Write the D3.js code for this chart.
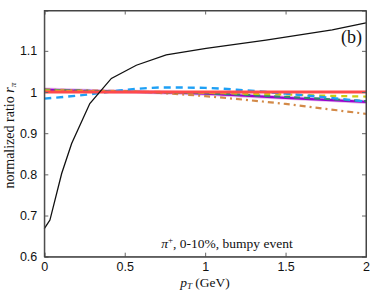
<!DOCTYPE html>
<html><head><meta charset="utf-8">
<script src="https://cdn.jsdelivr.net/npm/d3@7"></script>
<style>body{margin:0;background:#fff}svg{display:block}</style>
</head><body>
<svg id="c" width="374" height="291"></svg>
<script>
const xTicks = [0, 0.5, 1, 1.5, 2];
const yTicks = [0.6, 0.7, 0.8, 0.9, 1.0, 1.1];
const yTickLabels = ["0.6", "0.7", "0.8", "0.9", "1", "1.1"];
const xTickLabels = ["0", "0.5", "1", "1.5", "2"];

const pTBlack = [0, 0.035, 0.108, 0.17, 0.283, 0.417, 0.572, 0.758, 1.006, 1.378, 1.79, 2.0];
const ratioBlack = [0.668, 0.689, 0.802, 0.875, 0.972, 1.033, 1.065, 1.09, 1.106, 1.126, 1.151, 1.168];

const pT = [0, 0.25, 0.5, 0.75, 1.0, 1.25, 1.5, 1.75, 2.0];
const ratioOrange = [1.006, 1.004, 1.002, 0.997, 0.990, 0.981, 0.971, 0.959, 0.947];
const ratioYellow = [1.004, 1.002, 1.001, 1.000, 0.998, 0.996, 0.994, 0.991, 0.989];
const ratioGreen  = [1.005, 1.003, 1.001, 0.999, 0.997, 0.993, 0.988, 0.983, 0.978];
const ratioPurple = [1.006, 1.003, 1.001, 0.999, 0.996, 0.991, 0.986, 0.981, 0.976];
const ratioBlue   = [0.984, 0.993, 1.005, 1.011, 1.010, 1.004, 0.996, 0.987, 0.977];
const ratioRed    = [1.0, 1.0, 1.0, 1.0, 1.0, 1.0, 1.0, 1.0, 1.0];

const svg = d3.select("#c");
const L = 44.3, R = 366, T = 10.5, B = 256.7;
const x = d3.scaleLinear().domain([0, 2]).range([L, R]);
const y = d3.scaleLinear().domain([0.6, 1.198]).range([B, T]);

const g = svg.append("g");
const z = (xs, ys) => xs.map((v, i) => [v, ys[i]]);
const smooth = d3.line().x(d => x(d[0])).y(d => y(d[1])).curve(d3.curveMonotoneX);
const poly = d3.line().x(d => x(d[0])).y(d => y(d[1]));

const series = [
  {d: z(pT, ratioPurple), c: "#e6b8f0", w: 4, dash: null, gen: smooth},
  {d: z(pT, ratioPurple), c: "#9a00d0", w: 2.2, dash: null, gen: smooth},
  {d: z(pT, ratioOrange), c: "#d38a48", w: 2.2, dash: "6,4,2,4", gen: smooth},
  {d: z(pT, ratioGreen),  c: "#2e8b6e", w: 2.2, dash: "6,4", gen: smooth},
  {d: z(pT, ratioYellow), c: "#cccc10", w: 2.2, dash: "6,5", gen: smooth},
  {d: z(pT, ratioBlue),   c: "#1ea0f5", w: 2.4, dash: "7,5", gen: smooth},
  {d: z(pT, ratioRed),    c: "#ff4a4a", w: 2.8, dash: null, gen: smooth},
  {d: z(pTBlack, ratioBlack), c: "#111", w: 1.3, dash: null, gen: poly}
];
g.selectAll("path.s").data(series).join("path")
  .attr("class", "s")
  .attr("d", s => s.gen(s.d))
  .attr("fill", "none")
  .attr("stroke", s => s.c)
  .attr("stroke-width", s => s.w)
  .attr("stroke-dasharray", s => s.dash);

// axes
const tickFont = "Liberation Sans, Arial, sans-serif";
const xAxis = d3.axisBottom(x).tickValues(xTicks).tickSize(-4).tickPadding(7)
  .tickFormat((d, i) => xTickLabels[i]);
const yAxis = d3.axisLeft(y).tickValues(yTicks).tickSize(-4).tickPadding(6)
  .tickFormat((d, i) => yTickLabels[i]);
const gx = svg.append("g").attr("transform", `translate(0,${B})`).call(xAxis);
const gy = svg.append("g").attr("transform", `translate(${L},0)`).call(yAxis);
const gx2 = svg.append("g").attr("transform", `translate(0,${T})`).call(d3.axisTop(x).tickValues(xTicks).tickSize(-4).tickFormat(""));
const gy2 = svg.append("g").attr("transform", `translate(${R},0)`).call(d3.axisRight(y).tickValues(yTicks).tickSize(-4).tickFormat(""));
[gx, gy, gx2, gy2].forEach(a => {
  a.select(".domain").attr("stroke", "#444").attr("stroke-width", 1);
  a.selectAll(".tick line").attr("stroke", "#666");
  a.selectAll("text").attr("font-family", tickFont).attr("font-size", 12.5).attr("fill", "#111");
});
gy.selectAll(".tick text").attr("dx", -1);
gx.selectAll(".tick text").attr("dy", "0.6em");
svg.append("rect").attr("x", L).attr("y", T).attr("width", R - L).attr("height", B - T)
  .attr("fill", "none").attr("stroke", "#444").attr("stroke-width", 1);

// x label
const xl = svg.append("text").attr("x", 205).attr("y", 287).attr("text-anchor", "middle")
  .attr("font-family", "Liberation Serif, serif").attr("font-size", 13.5).attr("fill", "#111");
xl.append("tspan").attr("font-style", "italic").text("p");
xl.append("tspan").attr("font-style", "italic").attr("font-size", 9).attr("dy", 2).text("T");
xl.append("tspan").attr("dy", -2).text(" (GeV)");

// y label
const yl = svg.append("text").attr("transform", `translate(14,${(T + B) / 2 + 2}) rotate(-90)`)
  .attr("text-anchor", "middle")
  .attr("font-family", "Liberation Serif, serif").attr("font-size", 14).attr("fill", "#111");
yl.append("tspan").text("normalized ratio ");
yl.append("tspan").attr("font-style", "italic").text("r");
yl.append("tspan").attr("font-style", "italic").attr("font-size", 9).attr("dy", 2).text("π");

// annotation
const an = svg.append("text").attr("x", 227).attr("y", 248).attr("text-anchor", "middle")
  .attr("font-family", "Liberation Serif, serif").attr("font-size", 13.5).attr("fill", "#111");
an.append("tspan").attr("font-style", "italic").text("π");
an.append("tspan").attr("font-size", 9).attr("dy", -5).text("+");
an.append("tspan").attr("dy", 5).text(", 0-10%, bumpy event");

svg.append("text").attr("x", 362).attr("y", 43).attr("text-anchor", "end")
  .attr("font-family", "Liberation Serif, serif").attr("font-size", 18).attr("fill", "#111").text("(b)");
</script>
</body></html>
